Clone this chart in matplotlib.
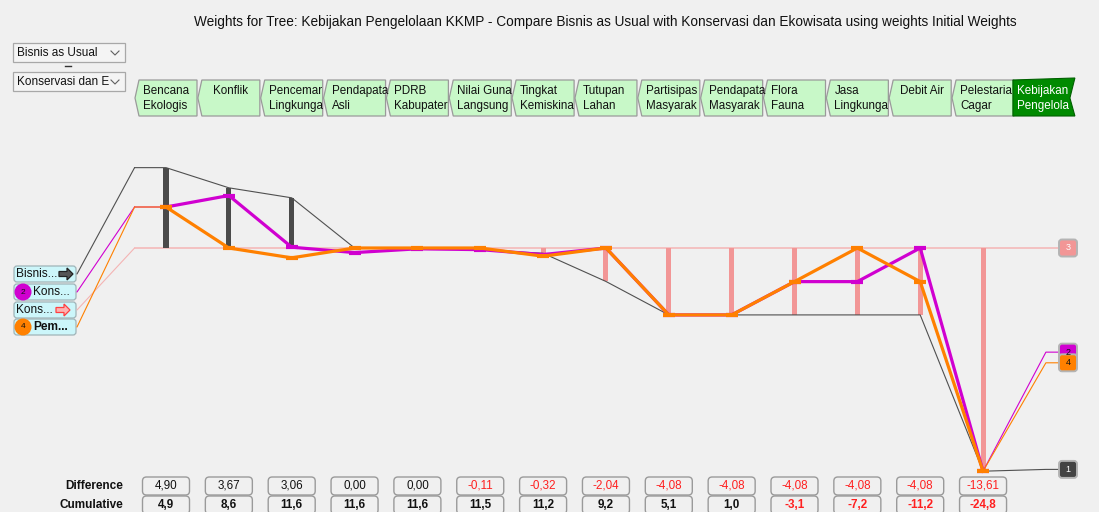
import matplotlib
matplotlib.use("Agg")
import matplotlib.pyplot as plt
from matplotlib.patches import Polygon, FancyBboxPatch, Circle, ConnectionPatch

plt.rcParams['font.family'] = ['Liberation Sans', 'DejaVu Sans']

title = ("Weights for Tree: Kebijakan Pengelolaan KKMP - Compare Bisnis as Usual "
         "with Konservasi dan Ekowisata using weights Initial Weights")
criteria = ["Bencana\nEkologis", "Konflik", "Pencemar\nLingkunga", "Pendapata\nAsli",
            "PDRB\nKabupater", "Nilai Guna\nLangsung", "Tingkat\nKemiskina", "Tutupan\nLahan",
            "Partisipas\nMasyarak", "Pendapata\nMasyarak", "Flora\nFauna", "Jasa\nLingkunga",
            "Debit Air", "Pelestaria\nCagar"]
goal = "Kebijakan\nPengelola"
dropdown_a = "Bisnis as Usual"
dropdown_b = "Konservasi dan E"
alt_labels = ["Bisnis...", "Kons...", "Kons...", "Pem..."]
alt_ids = ["1", "2", "3", "4"]

difference = [4.90, 3.67, 3.06, 0.00, 0.00, -0.11, -0.32, -2.04, -4.08, -4.08, -4.08, -4.08, -4.08, -13.61]
cumulative = [4.9, 8.6, 11.6, 11.6, 11.6, 11.5, 11.2, 9.2, 5.1, 1.0, -3.1, -7.2, -11.2, -24.8]

# traces per alternative, columns 0..13 are criteria, 14 is the goal
trace_bisnis = [4.90, 3.67, 3.06, 0.00, 0.00, -0.11, -0.32, -2.04, -4.08, -4.08, -4.08, -4.08, -4.08, -13.61, -13.5]
trace_kons2 = [2.5, 3.2, 0.05, -0.28, -0.05, -0.1, -0.4, 0.0, -4.08, -4.08, -2.05, -2.05, 0.0, -13.61, -6.35]
trace_kons3 = [0.0] * 15
trace_pem = [2.5, 0.0, -0.6, 0.0, 0.0, 0.0, -0.5, 0.0, -4.08, -4.08, -2.05, 0.0, -2.05, -13.61, -7.0]

# ---- layout (pixels) ----
W, H = 1099, 512
X0, DX = 166, 62.85      # pixel x of first criterion, spacing
Y0, DY = 248, 16.4       # pixel y of zero line, pixels per unit
BG = '#f0f0f0'
C_BLACK = '#4a4a4a'
C_MAG = '#d000d0'
C_PINK = '#f29696'
C_PINK_LINE = '#f4b4b4'
C_ORANGE = '#ff8000'


def px(i):
    return X0 + DX * i


def py(v):
    return Y0 - DY * v


fig = plt.figure(figsize=(W / 100, H / 100), dpi=100, facecolor=BG)

# data axes
ax = fig.add_axes([0, 0, 1, 1])
ax.set_facecolor(BG)
ax.set_xlim(-X0 / DX, (W - X0) / DX)
ax.set_ylim((Y0 - H) / DY, Y0 / DY)
ax.axis('off')

# overlay axes in pixel units for the widgets
ui = fig.add_axes([0, 0, 1, 1], zorder=3)
ui.set_xlim(0, W)
ui.set_ylim(H, 0)
ui.patch.set_alpha(0)
ui.axis('off')

n = len(criteria)
cols = list(range(n))
x_start = -0.5
x_end = (1060 - X0) / DX

# zero line of the reference alternative
ax.plot([x_start] + list(range(n + 1)) + [x_end], trace_kons3[:1] + trace_kons3 + trace_kons3[-1:],
        color=C_PINK_LINE, lw=1.1, zorder=1)

# bars of the difference per criterion
bar_colors = [C_BLACK if d > 0 else C_PINK for d in difference]
ax.bar(cols, difference, width=0.08, color=bar_colors, zorder=2)

# thin full traces
for tr, col in [(trace_bisnis, '#505050'), (trace_kons2, C_MAG), (trace_pem, C_ORANGE)]:
    xs = [x_start] + list(range(n + 1)) + [x_end]
    ys = [tr[0]] + tr + [tr[-1]]
    ax.plot(xs, ys, color=col, lw=0.8, zorder=3)

# thick traces over the criteria
for tr, col in [(trace_kons2, C_MAG), (trace_pem, C_ORANGE)]:
    ax.plot(cols, tr[:n], color=col, lw=2.3, marker='_', ms=8, mew=3, zorder=4)

# title
ui.text(605, 22, title, ha='center', va='center', fontsize=9.85, color='#111111')

# dropdowns
for yt, txt in [(43, dropdown_a), (72, dropdown_b)]:
    ui.add_patch(FancyBboxPatch((13, yt), 112, 19, boxstyle='square,pad=0',
                                fc='#f4f4f4', ec='#a8a8a8', lw=0.9))
    ui.text(17, yt + 10, txt, ha='left', va='center', fontsize=8.5, color='#111111')
    ui.plot([111, 115, 119], [yt + 8, yt + 12, yt + 8], color='#606060', lw=0.8)
ui.plot([65, 71], [66, 66], color='#333333', lw=1.0)

# header tags
T, B = 80, 116
for i, lab in enumerate(criteria):
    L, R = px(i) - 31, px(i) + 31
    tag = Polygon([(L + 4, T), (R, T), (R, B), (L + 4, B), (L, (T + B) / 2)],
                  closed=True, fc='#c8f8c8', ec='#9a9a9a', lw=0.9)
    ui.add_patch(tag)
    if '\n' in lab:
        t = ui.text(L + 8, T + 5, lab, ha='left', va='top', fontsize=8.4,
                    linespacing=1.3, color='#111111')
    else:
        t = ui.text(px(i) + 2, T + 5, lab, ha='center', va='top', fontsize=8.4, color='#111111')
    t.set_clip_path(tag)
    t.set_clip_on(True)
L, R = px(n) - 33, px(n) + 29
goal_tag = Polygon([(L, T), (R, T - 2), (R - 5, (T + B) / 2), (R, B), (L, B)],
                   closed=True, fc='#008a00', ec='#006000', lw=0.8)
ui.add_patch(goal_tag)
t = ui.text(L + 4, T + 5, goal, ha='left', va='top', fontsize=8.4, linespacing=1.3, color='white')
t.set_clip_path(goal_tag)
t.set_clip_on(True)


# left legend
def arrow(xl, yc, fc, ec):
    pts = [(xl, yc - 2.5), (xl + 8, yc - 2.5), (xl + 8, yc - 6), (xl + 14, yc),
           (xl + 8, yc + 6), (xl + 8, yc + 2.5), (xl, yc + 2.5)]
    ui.add_patch(Polygon(pts, closed=True, fc=fc, ec=ec, lw=0.9))


leg_y = [274, 292, 310, 327]
traces = [trace_bisnis, trace_kons2, trace_kons3, trace_pem]
leg_line_colors = ['#505050', C_MAG, C_PINK_LINE, C_ORANGE]
for k, yc in enumerate(leg_y):
    ui.add_patch(FancyBboxPatch((14, yc - 8), 62, 16, boxstyle='round,pad=0,rounding_size=3',
                                fc='#ccf6fa', ec='#a0b4b8', lw=0.9))
    con = ConnectionPatch(xyA=(77, yc), coordsA=ui.transData,
                          xyB=(x_start, traces[k][0]), coordsB=ax.transData,
                          color=leg_line_colors[k], lw=0.8, zorder=2)
    ui.add_artist(con)
ui.text(16, leg_y[0], alt_labels[0], ha='left', va='center', fontsize=8.6, color='#111111')
arrow(59, leg_y[0], '#555555', '#222222')
ui.add_patch(Circle((23, leg_y[1]), 8.5, fc=C_MAG, ec='none'))
ui.text(23, leg_y[1], alt_ids[1], ha='center', va='center', fontsize=6, color='#111111')
ui.text(33, leg_y[1], alt_labels[1], ha='left', va='center', fontsize=8.6, color='#111111')
ui.text(16, leg_y[2], alt_labels[2], ha='left', va='center', fontsize=8.6, color='#111111')
arrow(56, leg_y[2], '#ffb0b0', '#ff4040')
ui.add_patch(Circle((23, leg_y[3]), 8.5, fc=C_ORANGE, ec='none'))
ui.text(23, leg_y[3], alt_ids[3], ha='center', va='center', fontsize=6, color='#111111')
ui.text(33, leg_y[3], alt_labels[3], ha='left', va='center', fontsize=8.6,
        fontweight='bold', color='#111111')

# right end markers
end_styles = [(trace_kons3, '3', C_PINK, 'white'), (trace_bisnis, '1', '#444444', 'white'),
              (trace_kons2, '2', C_MAG, '#111111'), (trace_pem, '4', C_ORANGE, '#111111')]
for tr, lab, fc, tc in end_styles:
    yc = py(tr[-1])
    ui.add_patch(FancyBboxPatch((1059, yc - 8.5), 18, 17, boxstyle='round,pad=0,rounding_size=3',
                                fc=fc, ec='#b4b4b4', lw=1.4))
    ui.text(1068, yc, lab, ha='center', va='center', fontsize=6.5, color=tc)

# bottom table
ui.text(123, 486, "Difference", ha='right', va='center', fontsize=8.5, fontweight='bold', color='#111111')
ui.text(123, 505, "Cumulative", ha='right', va='center', fontsize=8.5, fontweight='bold', color='#111111')
for i in range(n):
    xc = px(i)
    for yt, v, fmt, bold in [(477, difference[i], '{:.2f}', False), (496, cumulative[i], '{:.1f}', True)]:
        ui.add_patch(FancyBboxPatch((xc - 23.5, yt), 47, 18, boxstyle='round,pad=0,rounding_size=4',
                                    fc=BG, ec='#9a9a9a', lw=1.0))
        col = '#ff2020' if v < 0 else '#111111'
        ui.text(xc, yt + 9, fmt.format(v).replace('.', ','), ha='center', va='center',
                fontsize=8.4, color=col, fontweight='bold' if bold else 'normal')

fig.savefig('out.png', dpi=100, facecolor=BG)
